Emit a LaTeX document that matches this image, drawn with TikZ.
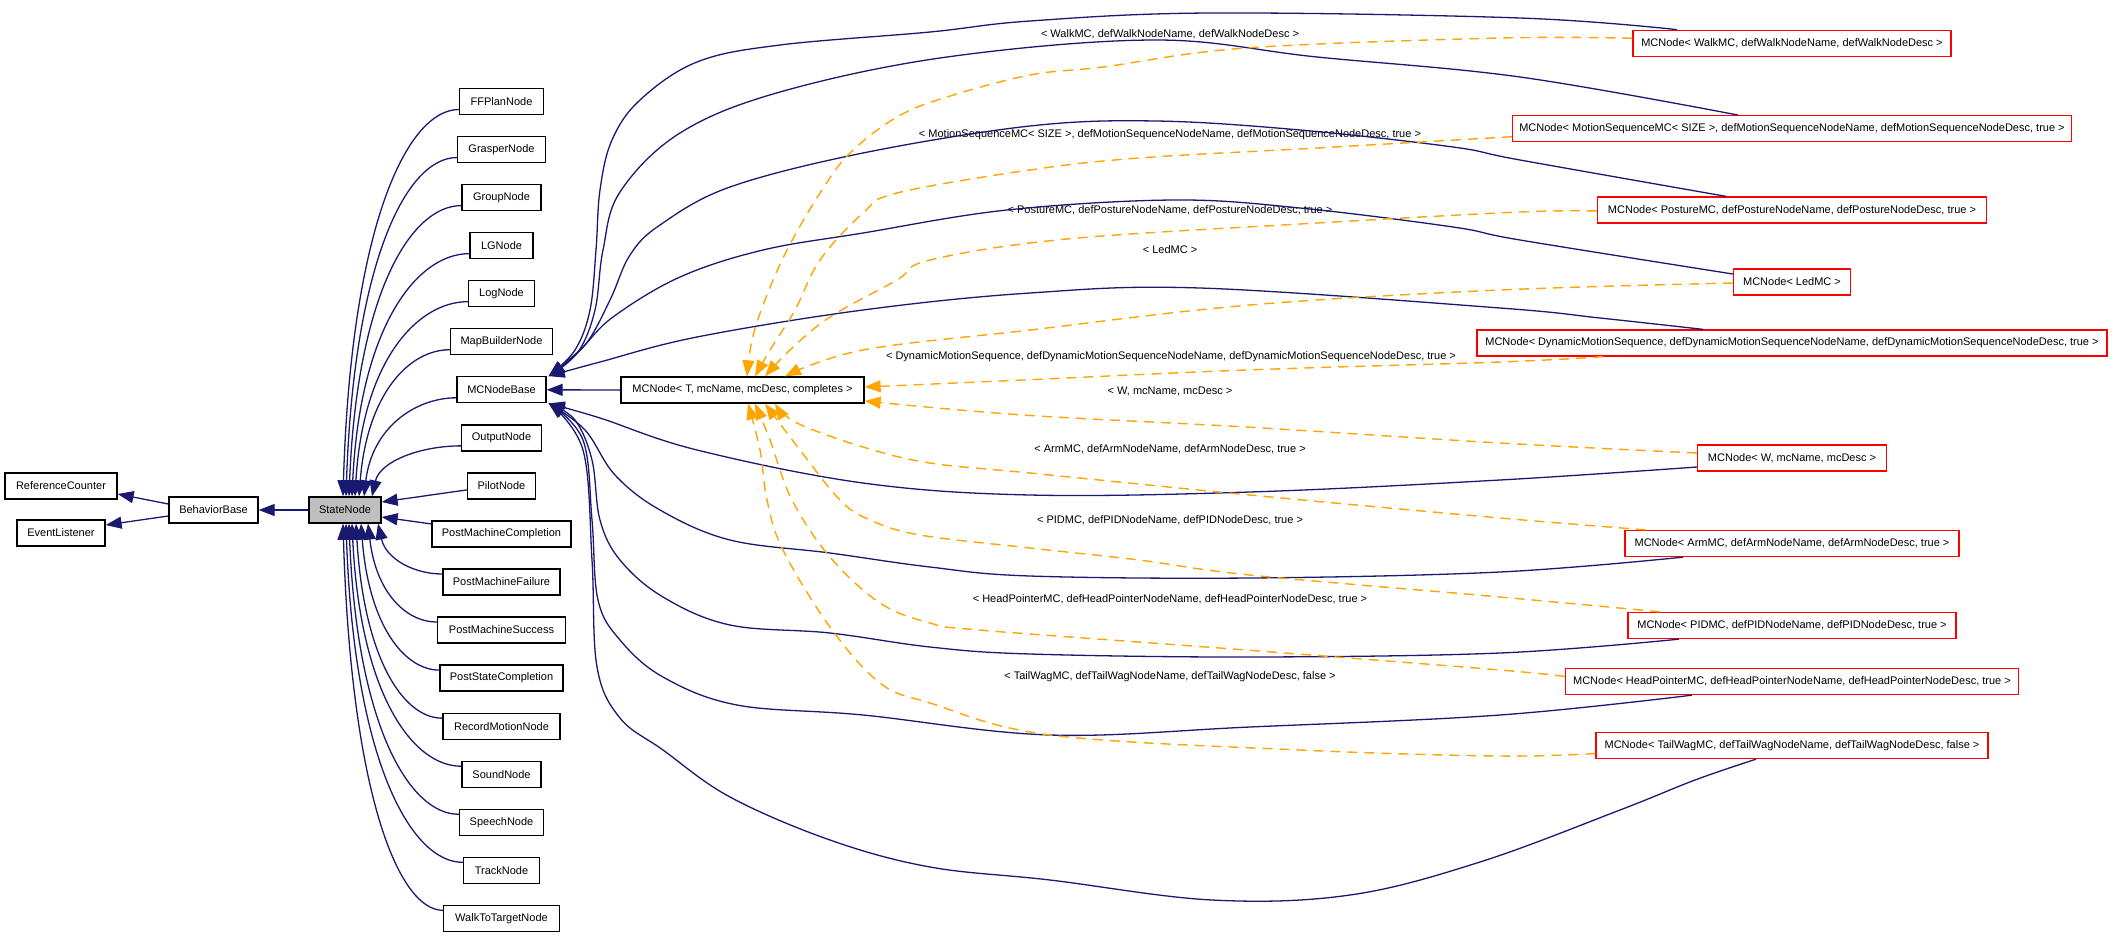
\documentclass[tikz,border=0pt]{standalone}
\usepackage{fontspec}
\setmainfont{Liberation Sans}
\usetikzlibrary{arrows.meta,calc}
\definecolor{navy}{RGB}{25,25,112}
\definecolor{orng}{RGB}{255,165,0}
\begin{document}
\begin{tikzpicture}[x=1pt,y=-1pt,
  box/.style={draw=black, line width=1.3pt, fill=white, minimum height=26pt, inner sep=0pt, font=\fontsize{11}{13}\selectfont},
  rbox/.style={box, draw=red},
  lbl/.style={inner sep=0pt, font=\fontsize{11}{13}\selectfont},
  inh/.style={draw=navy, line width=1.3pt, -{Triangle[length=16pt,width=12pt]}, fill=none},
  tpl/.style={draw=orng, line width=1.4pt, dash pattern=on 10pt off 7pt, -{Triangle[length=16pt,width=12pt,fill=orng]}},
  sm/.style={smooth, tension=0.6}]
\useasboundingbox (0,0) rectangle (2112,935);

% left part
\node[box, minimum width=112pt] (refc) at (61,486) {ReferenceCounter};
\node[box, minimum width=88pt] (evl) at (61,533) {EventListener};
\node[box, minimum width=89pt] (bb) at (213.5,510) {BehaviorBase};
\node[box, fill=gray!50, minimum width=72pt] (sn) at (345,510) {StateNode};

% StateNode children
\node[box, minimum width=84pt]  (ffp) at (501.5,101.5) {FFPlanNode};
\node[box, minimum width=88pt]  (grn) at (501.5,149.55) {GrasperNode};
\node[box, minimum width=79pt]  (gpn) at (501.5,197.6) {GroupNode};
\node[box, minimum width=63pt]  (lgn) at (501.5,245.65) {LGNode};
\node[box, minimum width=66pt]  (lon) at (501.5,293.7) {LogNode};
\node[box, minimum width=102pt] (mbn) at (501.5,341.75) {MapBuilderNode};
\node[box, minimum width=89pt]  (mcb) at (501.5,389.8) {MCNodeBase};
\node[box, minimum width=80pt]  (otn) at (501.5,437.85) {OutputNode};
\node[box, minimum width=68pt]  (pin) at (501.5,485.9) {PilotNode};
\node[box, minimum width=139pt] (pmc) at (501.5,533.95) {PostMachineCompletion};
\node[box, minimum width=117pt] (pmf) at (501.5,582) {PostMachineFailure};
\node[box, minimum width=128pt] (pms) at (501.5,630.05) {PostMachineSuccess};
\node[box, minimum width=123pt] (psc) at (501.5,678.1) {PostStateCompletion};
\node[box, minimum width=117pt] (rmn) at (501.5,726.15) {RecordMotionNode};
\node[box, minimum width=79pt]  (sdn) at (501.5,774.2) {SoundNode};
\node[box, minimum width=84pt]  (spn) at (501.5,822.25) {SpeechNode};
\node[box, minimum width=76pt]  (trn) at (501.5,870.3) {TrackNode};
\node[box, minimum width=116pt] (wtt) at (501.5,918.35) {WalkToTargetNode};

\node[box, minimum width=243pt] (mct) at (742.5,390) {MCNode< T, mcName, mcDesc, completes >};

% template instances
\node[rbox, minimum width=318pt] (walk) at (1792,43.3) {MCNode< WalkMC, defWalkNodeName, defWalkNodeDesc >};
\node[rbox, minimum width=559pt] (mseq) at (1792,128.7) {MCNode< MotionSequenceMC< SIZE >, defMotionSequenceNodeName, defMotionSequenceNodeDesc, true >};
\node[rbox, minimum width=389pt] (post) at (1792,210) {MCNode< PostureMC, defPostureNodeName, defPostureNodeDesc, true >};
\node[rbox, minimum width=117pt] (led) at (1792,282) {MCNode< LedMC >};
\node[rbox, minimum width=630pt] (dyn) at (1792,343) {MCNode< DynamicMotionSequence, defDynamicMotionSequenceNodeName, defDynamicMotionSequenceNodeDesc, true >};
\node[rbox, minimum width=189pt] (wn) at (1792,458) {MCNode< W, mcName, mcDesc >};
\node[rbox, minimum width=334pt] (arm) at (1792,543.5) {MCNode< ArmMC, defArmNodeName, defArmNodeDesc, true >};
\node[rbox, minimum width=328pt] (pid) at (1792,625.5) {MCNode< PIDMC, defPIDNodeName, defPIDNodeDesc, true >};
\node[rbox, minimum width=453pt] (head) at (1792,681.5) {MCNode< HeadPointerMC, defHeadPointerNodeName, defHeadPointerNodeDesc, true >};
\node[rbox, minimum width=392pt] (tail) at (1792,745.5) {MCNode< TailWagMC, defTailWagNodeName, defTailWagNodeDesc, false >};

% labels
\node[lbl] (l1) at (1170,34) {< WalkMC, defWalkNodeName, defWalkNodeDesc >};
\node[lbl] (l2) at (1170,135) {< MotionSequenceMC< SIZE >, defMotionSequenceNodeName, defMotionSequenceNodeDesc, true >};
\node[lbl] (l3) at (1170,210) {< PostureMC, defPostureNodeName, defPostureNodeDesc, true >};
\node[lbl] (l4) at (1170,250) {< LedMC >};
\node[lbl] (l5) at (1171,357) {< DynamicMotionSequence, defDynamicMotionSequenceNodeName, defDynamicMotionSequenceNodeDesc, true >};
\node[lbl] (l6) at (1170,391) {< W, mcName, mcDesc >};
\node[lbl] (l7) at (1170,449) {< ArmMC, defArmNodeName, defArmNodeDesc, true >};
\node[lbl] (l8) at (1170,520) {< PIDMC, defPIDNodeName, defPIDNodeDesc, true >};
\node[lbl] (l9) at (1170,599) {< HeadPointerMC, defHeadPointerNodeName, defHeadPointerNodeDesc, true >};
\node[lbl] (l10) at (1170,677) {< TailWagMC, defTailWagNodeName, defTailWagNodeDesc, false >};

% ---- left edges
\draw[inh] ($(bb.west)+(0,-6)$) -- ($(refc.east)+(0,8)$);
\draw[inh] ($(bb.west)+(0,6)$) -- ($(evl.east)+(0,-8)$);
\draw[inh] (sn.west) -- (bb.east);

% ---- StateNode children
\draw[inh] ($(ffp.west)+(0,8)$) .. controls (407,109.5) and (351,226) .. ($(sn.north)+(-2,0)$);
\draw[inh] ($(grn.west)+(0,8)$) .. controls (407,157.5) and (354,259.5) .. ($(sn.north)+(1,0)$);
\draw[inh] ($(gpn.west)+(0,8)$) .. controls (411,205.5) and (357,293) .. ($(sn.north)+(4,0)$);
\draw[inh] ($(lgn.west)+(0,8)$) .. controls (417,253.5) and (360,326.5) .. ($(sn.north)+(7,0)$);
\draw[inh] ($(lon.west)+(0,8)$) .. controls (418,301.5) and (363,360) .. ($(sn.north)+(10,0)$);
\draw[inh] ($(mbn.west)+(0,8)$) .. controls (409,349.6) and (367,394) .. ($(sn.north)+(14,0)$);
\draw[inh] ($(mcb.west)+(0,8)$) .. controls (415,397.8) and (372,428) .. ($(sn.north)+(19,0)$);
\draw[inh] ($(otn.west)+(0,8)$) .. controls (421,445.9) and (380,461) .. ($(sn.north)+(27,0)$);
\draw[inh] ($(pin.west)+(0,4)$) -- ($(sn.east)+(0,-8)$);
\draw[inh] ($(pmc.west)+(0,-10)$) -- ($(sn.east)+(0,7)$);
\draw[inh] ($(pmf.west)+(0,-8)$) .. controls (414,574) and (386,559) .. ($(sn.south)+(33,0)$);
\draw[inh] ($(pms.west)+(0,-8)$) .. controls (406,622) and (376,592.6) .. ($(sn.south)+(23,0)$);
\draw[inh] ($(psc.west)+(0,-8)$) .. controls (404.5,670) and (369,626) .. ($(sn.south)+(16,0)$);
\draw[inh] ($(rmn.west)+(0,-8)$) .. controls (404,718.5) and (364,660) .. ($(sn.south)+(11,0)$);
\draw[inh] ($(sdn.west)+(0,-8)$) .. controls (412.5,766.5) and (360,693.5) .. ($(sn.south)+(7,0)$);
\draw[inh] ($(spn.west)+(0,-8)$) .. controls (410,814.6) and (357,727) .. ($(sn.south)+(4,0)$);
\draw[inh] ($(trn.west)+(0,-8)$) .. controls (411,862.6) and (354,761) .. ($(sn.south)+(1,0)$);
\draw[inh] ($(wtt.west)+(0,-8)$) .. controls (398.5,910) and (351,794) .. ($(sn.south)+(-2,0)$);

\draw[inh] (mct.west) -- (mcb.east);

% ---- anchor coordinates
\coordinate (mcbU) at ($(mcb.north east)+(2,0)$);
\coordinate (mcbL) at ($(mcb.south east)+(2,0)$);
\coordinate (wkA) at ($(walk.north)+(-115,0)$);
\coordinate (msA) at ($(mseq.north)+(-54,0)$);
\coordinate (poA) at ($(post.north)+(-66,0)$);
\coordinate (leA) at ($(led.west)+(0,-8)$);
\coordinate (dyA) at ($(dyn.north)+(-89,0)$);
\coordinate (wA) at ($(wn.west)+(0,9)$);
\coordinate (arA) at ($(arm.south)+(-109,0)$);
\coordinate (piA) at ($(pid.south)+(-113,0)$);
\coordinate (heA) at ($(head.south)+(-100,0)$);
\coordinate (taA) at ($(tail.south)+(-36,0)$);

\coordinate (wkB) at ($(walk.west)+(0,-5)$);
\coordinate (msB) at ($(mseq.west)+(0,8)$);
\coordinate (poB) at ($(post.west)+(0,1)$);
\coordinate (leB) at ($(led.west)+(0,1)$);
\coordinate (dyB) at ($(dyn.south)+(-189,0)$);
\coordinate (wB) at ($(wn.west)+(0,-5)$);
\coordinate (arB) at ($(arm.north)+(-146,0)$);
\coordinate (piB) at ($(pid.north)+(-132,0)$);
\coordinate (heB) at ($(head.west)+(0,-5)$);
\coordinate (taB) at ($(tail.west)+(0,8)$);

\coordinate (t1) at ($(mct.north)+(4.5,0)$);
\coordinate (t2) at ($(mct.north)+(12.5,0)$);
\coordinate (t3) at ($(mct.north)+(22.5,0)$);
\coordinate (t4) at ($(mct.north)+(42.5,0)$);
\coordinate (t5) at ($(mct.east)+(0,-3)$);
\coordinate (t6) at ($(mct.east)+(0,11)$);
\coordinate (t7) at ($(mct.south)+(32.5,0)$);
\coordinate (t8) at ($(mct.south)+(22.5,0)$);
\coordinate (t9) at ($(mct.south)+(12.5,0)$);
\coordinate (t10) at ($(mct.south)+(5.5,0)$);

% ---- solid edges to MCNodeBase
\draw[inh] plot[sm] coordinates {(wkA) (1520,18) (1210,13) (1030,21) (930,32) (780,45) (697,62) (640,100) (612,140) (600,190) (596,250) (590,310) (575,350) (mcbU)};
\draw[inh] plot[sm] coordinates {(msA) (1520,77) (1317,57) (1156,40) (947,57) (780,92) (680,133) (620,192) (603,250) (595,310) (578,352) (mcbU)};
\draw[inh] plot[sm] coordinates {(poA) (1520,160) (1453,147) (1300,130) (1156,121) (1030,126) (863,153) (730,187) (660,225) (630,255) (610,300) (585,345) (mcbU)};
\draw[inh] plot[sm] coordinates {(leA) (1520,240) (1453,227) (1300,208) (1174,200) (1007,210) (863,233) (763,250) (680,277) (613,317) (580,350) (mcbU)};
\draw[inh] plot[sm] coordinates {(dyA) (1600,318) (1500,308) (1200,288) (1030,293) (863,310) (697,337) (600,362) (mcbU)};
\draw[inh] plot[sm] coordinates {(wA) (1500,480) (1250,492) (1030,495) (863,483) (697,450) (600,418) (mcbL)};
\draw[inh] plot[sm] coordinates {(arA) (1500,572) (1250,578) (1030,576) (930,567) (830,553) (730,540) (660,510) (615,475) (585,430) (mcbL)};
\draw[inh] plot[sm] coordinates {(piA) (1500,653) (1250,657) (1030,654) (930,647) (830,633) (730,625) (663,597) (620,560) (600,520) (592,460) (575,420) (mcbL)};
\draw[inh] plot[sm] coordinates {(heA) (1500,715) (1250,727) (1050,735) (863,715) (737,705) (663,677) (620,640) (598,600) (592,520) (583,440) (mcbL)};
\draw[inh] plot[sm] coordinates {(taA) (1695,780) (1620,810) (1480,862) (1350,895) (1212,900) (1050,880) (930,867) (830,840) (730,797) (663,750) (620,718) (597,667) (592,560) (583,450) (mcbL)};

% ---- dashed edges to MCNode<T>
\draw[tpl] plot[sm] coordinates {(wkB) (1500,38) (1246,48) (1103,67) (1030,75) (947,97) (897,117) (850,153) (820,193) (787,250) (765,300) (752,340) (t1)};
\draw[tpl] plot[sm] coordinates {(msB) (1317,148) (1139,158) (1030,170) (897,193) (863,213) (820,260) (795,310) (770,350) (t2)};
\draw[tpl] plot[sm] coordinates {(poB) (1520,212) (1317,223) (1067,239) (930,260) (897,280) (830,317) (790,350) (t3)};
\draw[tpl] plot[sm] coordinates {(leB) (1500,290) (1250,305) (1030,330) (863,350) (t4)};
\draw[tpl] plot[sm] coordinates {(dyB) (1500,362) (1246,370) (1023,380) (t5)};
\draw[tpl] plot[sm] coordinates {(wB) (1500,443) (1246,427) (1023,415) (t6)};
\draw[tpl] plot[sm] coordinates {(arB) (1500,518) (1250,495) (1030,473) (930,463) (863,447) (797,423) (t7)};
\draw[tpl] plot[sm] coordinates {(piB) (1500,597) (1250,575) (1139,560) (1030,548) (920,535) (870,520) (840,500) (800,450) (t8)};
\draw[tpl] plot[sm] coordinates {(heB) (1500,670) (1246,650) (979,630) (930,623) (880,603) (830,557) (792,500) (770,440) (t9)};
\draw[tpl] plot[sm] coordinates {(taB) (1500,756) (1300,750) (1050,735) (930,703) (880,683) (830,627) (783,550) (767,500) (760,450) (t10)};
\end{tikzpicture}
\end{document}
